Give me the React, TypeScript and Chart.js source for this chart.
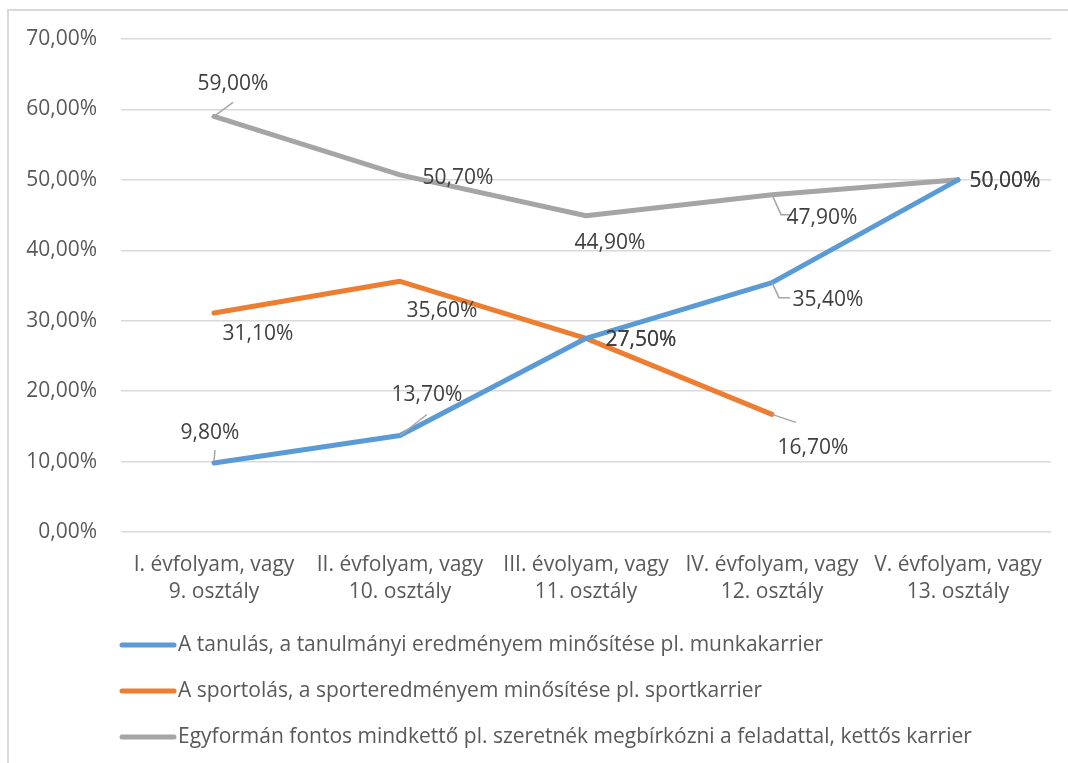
import React, { useEffect, useRef } from "react";
import { Chart, registerables } from "chart.js";

Chart.register(...registerables);

// ---- data ----
const categories: string[][] = [
  ["I. évfolyam, vagy", "9. osztály"],
  ["II. évfolyam, vagy", "10. osztály"],
  ["III. évolyam, vagy", "11. osztály"],
  ["IV. évfolyam, vagy", "12. osztály"],
  ["V. évfolyam, vagy", "13. osztály"],
];

const seriesNames = [
  "A tanulás, a tanulmányi eredményem minősítése pl. munkakarrier",
  "A sportolás, a sporteredményem minősítése pl. sportkarrier",
  "Egyformán fontos mindkettő pl. szeretnék megbírkózni a feladattal, kettős karrier",
];

const tanulas = [0.098, 0.137, 0.275, 0.354, 0.5];
const sportolas = [0.311, 0.356, 0.275, 0.167, null];
const mindketto = [0.59, 0.507, 0.449, 0.479, 0.5];

const yTicks = [0, 0.1, 0.2, 0.3, 0.4, 0.5, 0.6, 0.7];

// ---- styles ----
const colors = ["#5b9bd5", "#ed7d31", "#a5a5a5"];
const FONT = "'Open Sans', 'DejaVu Sans', sans-serif";
const FONT_SIZE = 21;

// label offset (dx, dy) of label centre from the point, and optional leader path
type LabelStyle = { dx: number; dy: number; leader?: number[][] };
const labelStyles: LabelStyle[][] = [
  [
    { dx: -4, dy: -30, leader: [[0, -2], [1, -13]] },
    { dx: 27, dy: -40, leader: [[0, 0], [27, -21]] },
    { dx: 55, dy: 2 },
    { dx: 56, dy: 17, leader: [[0, 0], [7, 15], [18, 15]] },
    { dx: 47, dy: 1 },
  ],
  [
    { dx: 44, dy: 21 },
    { dx: 42, dy: 30 },
    { dx: 55, dy: 2 },
    { dx: 41, dy: 34, leader: [[0, 0], [24, 8]] },
    { dx: 0, dy: 0 },
  ],
  [
    { dx: 19, dy: -32, leader: [[0, 0], [19, -14]] },
    { dx: 58, dy: 3 },
    { dx: 24, dy: 27 },
    { dx: 50, dy: 23, leader: [[0, 0], [9, 20], [20, 20]] },
    { dx: 47, dy: 1 },
  ],
];

const fmt = (v: number) => (v * 100).toFixed(2).replace(".", ",") + "%";

const framePlugin = {
  id: "frame",
  beforeDraw(chart: any) {
    const ctx = chart.ctx;
    ctx.save();
    ctx.fillStyle = "#ffffff";
    ctx.fillRect(0, 0, chart.width, chart.height);
    ctx.strokeStyle = "#d9d9d9";
    ctx.lineWidth = 2;
    ctx.beginPath();
    ctx.moveTo(8, chart.height);
    ctx.lineTo(8, 10);
    ctx.lineTo(chart.width, 10);
    ctx.stroke();
    ctx.restore();
  },
};

const labelPlugin = {
  id: "pointLabels",
  afterDatasetsDraw(chart: any) {
    const ctx = chart.ctx;
    ctx.save();
    chart.data.datasets.forEach((ds: any, di: number) => {
      const meta = chart.getDatasetMeta(di);
      meta.data.forEach((pt: any, i: number) => {
        const v = ds.data[i];
        if (v === null || v === undefined) return;
        const st = labelStyles[di][i];
        if (st.leader) {
          ctx.strokeStyle = "#a6a6a6";
          ctx.lineWidth = 1.5;
          ctx.beginPath();
          st.leader.forEach((p, k) => {
            if (k === 0) ctx.moveTo(pt.x + p[0], pt.y + p[1]);
            else ctx.lineTo(pt.x + p[0], pt.y + p[1]);
          });
          ctx.stroke();
        }
      });
    });
    chart.data.datasets.forEach((ds: any, di: number) => {
      const meta = chart.getDatasetMeta(di);
      meta.data.forEach((pt: any, i: number) => {
        const v = ds.data[i];
        if (v === null || v === undefined) return;
        const st = labelStyles[di][i];
        ctx.fillStyle = "#404040";
        ctx.font = `${FONT_SIZE}px ${FONT}`;
        ctx.textAlign = "center";
        ctx.textBaseline = "middle";
        ctx.fillText(fmt(v), pt.x + st.dx, pt.y + st.dy);
      });
    });
    ctx.restore();
  },
};

const legendPlugin = {
  id: "customLegend",
  afterDraw(chart: any) {
    const ctx = chart.ctx;
    const base = chart.chartArea.bottom;
    ctx.save();
    chart.data.datasets.forEach((ds: any, di: number) => {
      const y = base + 113 + di * 46;
      ctx.strokeStyle = ds.borderColor;
      ctx.lineWidth = 5;
      ctx.lineCap = "round";
      ctx.beginPath();
      ctx.moveTo(122, y);
      ctx.lineTo(174, y);
      ctx.stroke();
      ctx.fillStyle = "#595959";
      ctx.font = `${FONT_SIZE}px ${FONT}`;
      ctx.textAlign = "left";
      ctx.textBaseline = "middle";
      ctx.fillText(ds.label, 178, y);
    });
    ctx.restore();
  },
};

export default function App() {
  const ref = useRef<HTMLCanvasElement | null>(null);
  useEffect(() => {
    if (!ref.current) return;
    const series = [tanulas, sportolas, mindketto];
    const chart = new Chart(ref.current, {
      type: "line",
      data: {
        labels: categories,
        datasets: series.map((d, i) => ({
          label: seriesNames[i],
          data: d,
          borderColor: colors[i],
          backgroundColor: colors[i],
          borderWidth: 5,
          pointRadius: 0,
          pointHoverRadius: 0,
          tension: 0,
          fill: false,
          spanGaps: false,
          borderCapStyle: "round",
          borderJoinStyle: "round",
        })),
      },
      options: {
        animation: false,
        responsive: false,
        devicePixelRatio: 1,
        layout: { padding: { top: 39, right: 17, left: 0, bottom: 0 } },
        plugins: {
          legend: { display: false },
          tooltip: { enabled: false },
        },
        scales: {
          x: {
            offset: true,
            grid: { display: false, drawTicks: false, tickLength: 0 },
            border: { display: false },
            ticks: {
              color: "#595959",
              font: { family: FONT, size: FONT_SIZE, lineHeight: 1.3 },
              padding: 19,
              maxRotation: 0,
              autoSkip: false,
            },
            afterFit: (s: any) => {
              s.height = 231;
            },
          },
          y: {
            min: 0,
            max: 0.7,
            afterBuildTicks: (s: any) => {
              s.ticks = yTicks.map((v) => ({ value: v }));
            },
            grid: { color: "#d9d9d9", lineWidth: 1.5, drawTicks: false, tickLength: 0 },
            border: { display: false },
            ticks: {
              color: "#595959",
              font: { family: FONT, size: FONT_SIZE },
              padding: 24,
              callback: (v: any) => fmt(Number(v)),
            },
            afterFit: (s: any) => {
              s.width = 121;
            },
          },
        },
      },
      plugins: [framePlugin, labelPlugin, legendPlugin],
    } as any);
    return () => chart.destroy();
  }, []);
  return (
    <div style={{ position: "fixed", left: 0, top: 0, width: 1068, height: 763 }}>
      <canvas ref={ref} width={1068} height={763} style={{ width: 1068, height: 763 }} />
    </div>
  );
}
